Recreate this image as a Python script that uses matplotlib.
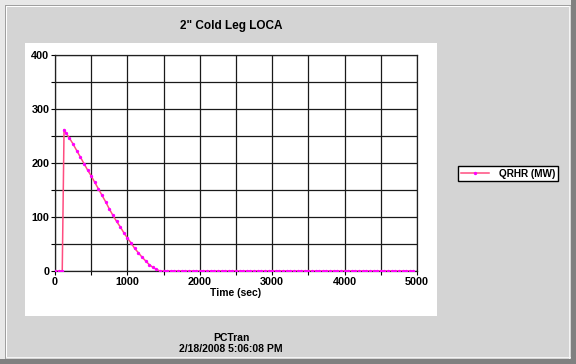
import matplotlib.pyplot as plt
from matplotlib.patches import Rectangle
from matplotlib.ticker import MultipleLocator

# QRHR (MW)
time_sec = [0, 50, 100, 125, 150, 200, 250, 300, 350, 400, 450, 500, 550,
            600, 650, 700, 750, 800, 850, 900, 950, 1000, 1050, 1100, 1150,
            1200, 1250, 1300, 1350, 1400, 1450]
qrhr_mw = [0, 0, 0, 262, 256, 246, 235, 223, 211, 199, 187, 176, 164,
           152, 140, 128, 115, 103, 92, 82, 71, 61, 52, 42, 34,
           26, 19, 12, 7, 3, 0]
# flat at zero to the end of the run
tail_time = list(range(1500, 5000, 50))
tail_vals = [0] * len(tail_time)

times = time_sec + tail_time
values = qrhr_mw + tail_vals

W, H = 576, 364
fig = plt.figure(figsize=(W / 100, H / 100), dpi=100)
fig.patch.set_facecolor('#d4d4d4')
plt.rcParams['font.family'] = ['Liberation Sans', 'DejaVu Sans']


def px_rect(x0, y0, x1, y1, color, z=-1):
    # rectangle given in image pixels (origin top-left)
    fig.patches.append(Rectangle((x0 / W, 1 - y1 / H), (x1 - x0) / W, (y1 - y0) / H,
                                 transform=fig.transFigure, facecolor=color,
                                 edgecolor='none', zorder=z))


# window frame: light top/left, dark bottom/right
px_rect(0, 0, W, 5, '#e8e8e8')
px_rect(0, 0, 5, H, '#e8e8e8')
px_rect(5, 5, W - 5, 6, '#a0a0a0')
px_rect(5, 5, 6, H - 5, '#a0a0a0')
px_rect(6, 6, W - 6, 7, '#ffffff')
px_rect(6, 6, 7, H - 6, '#ffffff')
px_rect(0, H - 5, W, H, '#808080')
px_rect(W - 5, 0, W, H, '#808080')
px_rect(6, H - 7, W - 5, H - 6, '#f4f4f4')
px_rect(W - 7, 6, W - 6, H - 5, '#f4f4f4')

# white chart panel
px_rect(25, 43, 437, 316, '#ffffff')

ax = fig.add_axes([55 / W, 1 - 271 / H, 362 / W, 216 / H])
ax.set_zorder(5)
ax.set_facecolor('white')

ax.plot(times, values, color='#ff4d80', lw=1.1, marker='o', ms=1.4,
        mfc='#ff00ff', mec='#ff00ff', label='QRHR (MW)', zorder=3)

ax.set_xlim(0, 5000)
ax.set_ylim(0, 400)
ax.xaxis.set_major_locator(MultipleLocator(1000))
ax.xaxis.set_minor_locator(MultipleLocator(500))
ax.yaxis.set_major_locator(MultipleLocator(100))
ax.yaxis.set_minor_locator(MultipleLocator(50))
ax.grid(True, which='both', color='#1a1a1a', lw=0.9)
ax.tick_params(which='both', length=3, width=0.8, direction='out', pad=1,
               labelsize=7.8, colors='black')
for lab in ax.get_xticklabels() + ax.get_yticklabels():
    lab.set_fontweight('bold')
for s in ax.spines.values():
    s.set_color('#202020')
    s.set_linewidth(0.9)

ax.set_xlabel('Time (sec)', fontsize=7.5, fontweight='bold', labelpad=1)

fig.text(231 / W, 1 - 26 / H, '2" Cold Leg LOCA', ha='center', va='center',
         fontsize=8.5, fontweight='bold')
fig.text(231 / W, 1 - 338 / H, 'PCTran', ha='center', va='center', fontsize=7.5,
         fontweight='bold')
fig.text(231 / W, 1 - 349 / H, '2/18/2008 5:06:08 PM', ha='center', va='center',
         fontsize=7.5, fontweight='bold')

leg = ax.legend(loc='center', bbox_to_anchor=(508 / W, 1 - 173.5 / H),
                bbox_transform=fig.transFigure, numpoints=1, fancybox=False,
                edgecolor='black', framealpha=1, borderpad=0.25, handlelength=2.8,
                handletextpad=1.0, prop={'size': 7.2, 'weight': 'bold'},
                borderaxespad=0)
leg.get_frame().set_linewidth(1.0)

fig.savefig('out.png', dpi=100, facecolor=fig.get_facecolor())
